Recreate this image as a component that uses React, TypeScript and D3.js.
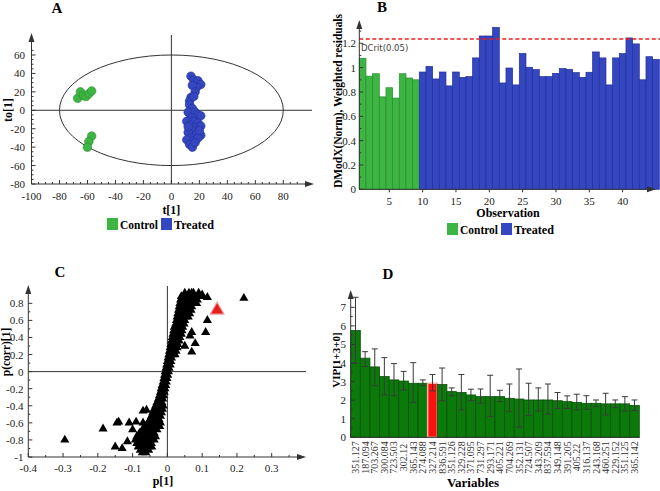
import React from 'react';
import * as d3 from 'd3';

// ---------- Panel A: OPLS-DA scores ----------
const controlScores: [number, number][] = [
  [-67, 13], [-65, 20], [-63, 16], [-61, 15], [-59, 18], [-57, 21],
  [-57, -28], [-59, -34], [-60, -40],
];
const treatedScores: [number, number][] = [
  [14, 37], [16, 33], [19, 32], [21, 28], [18, 25], [15, 27], [17, 20], [14, 14], [13, 10],
  [16, 15], [13, 6], [15, 2], [12, -2], [17, -2], [19, -5], [21, -6], [14, -8], [11, -12],
  [16, -12], [19, -14], [13, -16], [17, -19], [21, -17], [15, -22], [12, -24], [18, -26],
  [21, -27], [14, -30], [11, -32], [16, -33], [19, -30], [13, -37], [15, -40], [17, -35],
  [20, -22], [12, -18],
];
const aXTicks = [-100, -80, -60, -40, -20, 0, 20, 40, 60, 80];
const aYTicks = [-80, -60, -40, -20, 0, 20, 40, 60];
const ellipseT = 80;
const ellipseTo = 60;

// ---------- Panel B: DModX ----------
const dmodxControl = [1.077, 0.93, 0.95, 0.76, 0.835, 0.75, 0.95, 0.915, 0.9];
const dmodxTreated = [
  0.964, 1.01, 0.907, 0.964, 0.85, 0.964, 0.92, 0.926, 1.08, 1.26, 1.26, 1.33, 0.874,
  0.997, 0.858, 1.115, 1.003, 0.984, 0.926, 0.926, 0.953, 0.992, 0.986, 0.959, 0.92,
  0.962, 1.129, 1.08, 0.858, 1.08, 1.115, 1.244, 1.195, 0.9, 1.09, 1.068,
];
const dcrit = 1.235;
const bXTicks = [5, 10, 15, 20, 25, 30, 35, 40];
const bYTicks = [0, 0.2, 0.4, 0.6, 0.8, 1, 1.2];

// ---------- Panel C: S-plot ----------
const loadings: [number, number][] = [
  [0.05, 0.92], [0.062, 0.92], [0.075, 0.92], [0.09, 0.92],
  [0.04, 0.88], [0.052, 0.88], [0.064, 0.88], [0.076, 0.88], [0.088, 0.88], [0.1, 0.88],
  [0.038, 0.84], [0.05, 0.84], [0.062, 0.84], [0.074, 0.84], [0.086, 0.84],
  [0.036, 0.8], [0.048, 0.8], [0.06, 0.8], [0.072, 0.8], [0.084, 0.8],
  [0.034, 0.76], [0.046, 0.76], [0.058, 0.76], [0.07, 0.76],
  [0.032, 0.72], [0.044, 0.72], [0.056, 0.72], [0.068, 0.72],
  [0.03, 0.68], [0.042, 0.68], [0.054, 0.68], [0.064, 0.68],
  [0.028, 0.64], [0.04, 0.64], [0.052, 0.64], [0.06, 0.64],
  [0.026, 0.6], [0.038, 0.6], [0.05, 0.6],
  [0.024, 0.56], [0.036, 0.56], [0.048, 0.56],
  [0.02, 0.52], [0.032, 0.52], [0.044, 0.52],
  [0.018, 0.48], [0.03, 0.48], [0.042, 0.48],
  [0.016, 0.44], [0.028, 0.44], [0.04, 0.44],
  [0.014, 0.4], [0.026, 0.4], [0.036, 0.4],
  [0.012, 0.36], [0.024, 0.36], [0.034, 0.36],
  [0.01, 0.32], [0.02, 0.32], [0.03, 0.32],
  [0.008, 0.28], [0.018, 0.28], [0.028, 0.28],
  [0.006, 0.24], [0.016, 0.24], [0.025, 0.24],
  [0.004, 0.2], [0.014, 0.2], [0.022, 0.2],
  [0.002, 0.16], [0.012, 0.16],
  [0, 0.12], [0.01, 0.12],
  [-0.002, 0.08], [0.008, 0.08],
  [-0.004, 0.04], [0.005, 0.04],
  [-0.006, 0], [0.003, 0],
  [-0.008, -0.04], [0.001, -0.04],
  [-0.01, -0.08], [-0.001, -0.08],
  [-0.012, -0.12], [-0.003, -0.12],
  [-0.015, -0.16], [-0.005, -0.16],
  [-0.018, -0.2], [-0.007, -0.2],
  [-0.02, -0.24], [-0.009, -0.24],
  [-0.023, -0.28], [-0.011, -0.28],
  [-0.026, -0.32], [-0.013, -0.32],
  [-0.03, -0.36], [-0.016, -0.36],
  [-0.034, -0.4], [-0.02, -0.4], [-0.012, -0.4],
  [-0.038, -0.44], [-0.025, -0.44], [-0.014, -0.44],
  [-0.042, -0.48], [-0.03, -0.48], [-0.017, -0.48],
  [-0.046, -0.52], [-0.034, -0.52], [-0.02, -0.52],
  [-0.05, -0.56], [-0.038, -0.56], [-0.024, -0.56],
  [-0.056, -0.6], [-0.044, -0.6], [-0.03, -0.6], [-0.02, -0.6],
  [-0.064, -0.64], [-0.05, -0.64], [-0.036, -0.64], [-0.022, -0.64],
  [-0.072, -0.68], [-0.058, -0.68], [-0.044, -0.68], [-0.03, -0.68],
  [-0.08, -0.72], [-0.066, -0.72], [-0.052, -0.72], [-0.038, -0.72],
  [-0.088, -0.76], [-0.074, -0.76], [-0.06, -0.76], [-0.046, -0.76], [-0.034, -0.76],
  [-0.092, -0.8], [-0.078, -0.8], [-0.064, -0.8], [-0.05, -0.8], [-0.038, -0.8],
  [-0.088, -0.84], [-0.074, -0.84], [-0.06, -0.84], [-0.046, -0.84],
  [-0.084, -0.88], [-0.07, -0.88], [-0.056, -0.88], [-0.045, -0.88],
  [-0.078, -0.92], [-0.066, -0.92], [-0.054, -0.92],
  [-0.072, -0.95], [-0.062, -0.95],
  // scattered variables
  [-0.295, -0.8], [-0.185, -0.67], [-0.145, -0.6], [-0.14, -0.59], [-0.15, -0.88],
  [-0.13, -0.9], [-0.115, -0.82], [-0.11, -0.6], [-0.09, -0.59], [-0.1, -0.68],
  [-0.07, -0.46], [-0.06, -0.45], [-0.07, -0.6],
  [0.22, 0.86], [0.115, 0.6], [0.11, 0.46], [0.08, 0.33], [0.07, 0.46], [0.065, 0.42],
  [0.07, 0.23], [0.05, 0.3], [0.1, 0.9], [0.115, 0.87], [0.07, 0.92],
];
const highlightLoading: [number, number] = [0.143, 0.72];
const cXTicks = [-0.4, -0.3, -0.2, -0.1, 0, 0.1, 0.2, 0.3];
const cYTicks = [-1, -0.8, -0.6, -0.4, -0.2, 0, 0.2, 0.4, 0.6, 0.8];

// ---------- Panel D: VIP ----------
const vipLabels = [
  '351.127', '187.094', '703.267', '300.084', '723.503', '302.12', '365.143', '274.088',
  '327.214', '836.591', '351.126', '329.228', '371.095', '731.297', '293.171', '405.221',
  '704.269', '352.131', '724.507', '343.209', '837.594', '349.148', '391.205', '405.22',
  '316.137', '243.168', '460.251', '229.152', '351.125', '365.142',
];
const vipValues = [
  5.75, 4.26, 3.79, 3.27, 3.09, 3.03, 2.91, 2.91, 2.91, 2.84, 2.46, 2.41, 2.28, 2.19, 2.19,
  2.19, 2.1, 2.06, 2.01, 2.01, 2.01, 1.97, 1.92, 1.88, 1.83, 1.83, 1.8, 1.8, 1.8, 1.71,
];
const vipLow = [
  3.99, 3.81, 2.78, 2.28, 2.24, 2.55, 1.88, 2.78, 2.5, 1.97, 2.24, 1.47, 1.97, 1.83, 1.11,
  1.92, 1.38, 0.54, 1.17, 1.42, 1.24, 1.56, 1.56, 1.47, 1.51, 1.65, 1.2, 1.6, 1.42, 1.44,
];
const vipHigh = [
  7.54, 4.61, 4.76, 4.29, 3.97, 3.55, 4.02, 3.09, 3.38, 3.73, 2.66, 3.38, 2.59, 2.6, 3.34,
  2.53, 2.87, 3.68, 2.91, 2.66, 2.87, 2.41, 2.23, 2.32, 2.24, 2.01, 2.37, 2.01, 2.19, 2.01,
];
const vipHighlight = '327.214';
const dYTicks = [0, 1, 2, 3, 4, 5, 6, 7];

const SERIF = '"Liberation Serif", "DejaVu Serif", serif';
const AX = '#333';
const GREEN = '#3db542';
const GREEN_S = '#2a8e30';
const BLUE = '#3447c0';
const BLUE_S = '#22309a';

function UpArrow({ x, y }: { x: number; y: number }) {
  return <polygon points={`${x},${y} ${x - 3},${y + 9} ${x + 3},${y + 9}`} fill={AX} />;
}
function RightArrow({ x, y }: { x: number; y: number }) {
  return <polygon points={`${x},${y} ${x - 9},${y - 3} ${x - 9},${y + 3}`} fill={AX} />;
}

function fmt(v: number) {
  return String(Math.round(v * 10) / 10);
}

function Legend({ x0, y0 }: { x0: number; y0: number }) {
  return (
    <g>
      <rect x={x0} y={y0} width={11} height={12} fill={GREEN} />
      <text x={x0 + 13} y={y0 + 11} fontFamily={SERIF} fontWeight="bold" fontSize={13}
        textLength={38} lengthAdjust="spacingAndGlyphs">Control</text>
      <rect x={x0 + 54} y={y0} width={11} height={12} fill={BLUE} />
      <text x={x0 + 67} y={y0 + 11} fontFamily={SERIF} fontWeight="bold" fontSize={13}
        textLength={40} lengthAdjust="spacingAndGlyphs">Treated</text>
    </g>
  );
}

function PanelA() {
  const x = d3.scaleLinear().domain([-100, 80]).range([31.5, 283.3]);
  const y = d3.scaleLinear().domain([-80, 60]).range([184, 55]);
  const left = x(-100);
  const bottom = y(-80);
  const xMinor = d3.range(-100, 91, 5);
  const yMinor = d3.range(-80, 66, 5);
  return (
    <g>
      <text x={57} y={13} textAnchor="middle" fontFamily={SERIF} fontWeight="bold" fontSize={15}>A</text>
      <ellipse cx={x(0)} cy={y(0)} rx={x(ellipseT) - x(0)} ry={y(0) - y(ellipseTo)} fill="none" stroke="#333" strokeWidth={1} />
      <line x1={x(0)} x2={x(0)} y1={35} y2={bottom} stroke={AX} />
      <line x1={left} x2={312} y1={y(0)} y2={y(0)} stroke={AX} />
      {controlScores.map((d, i) => (
        <circle key={'c' + i} cx={x(d[0])} cy={y(d[1])} r={4.3} fill={GREEN} stroke={GREEN_S} strokeWidth={0.6} />
      ))}
      {treatedScores.map((d, i) => (
        <circle key={'t' + i} cx={x(d[0])} cy={y(d[1])} r={4.3} fill={BLUE} stroke={BLUE_S} strokeWidth={0.6} />
      ))}
      <line x1={left} x2={left} y1={bottom} y2={36} stroke={AX} />
      <UpArrow x={left} y={33} />
      <line x1={left} x2={311} y1={bottom} y2={bottom} stroke={AX} />
      <RightArrow x={314} y={bottom} />
      {xMinor.map((v) => (
        <line key={'xm' + v} x1={x(v)} x2={x(v)} y1={bottom} y2={bottom - (v % 20 === 0 ? 4 : 2)} stroke={AX} />
      ))}
      {yMinor.map((v) => (
        <line key={'ym' + v} x1={left} x2={left + (v % 20 === 0 ? 4 : 2)} y1={y(v)} y2={y(v)} stroke={AX} />
      ))}
      {aXTicks.map((v) => (
        <text key={'xt' + v} x={x(v)} y={200} textAnchor="middle" fontFamily={SERIF} fontSize={11} fill="#222">{v}</text>
      ))}
      {aYTicks.map((v) => (
        <text key={'yt' + v} x={25} y={y(v) + 4} textAnchor="end" fontFamily={SERIF} fontSize={11} fill="#222">{v}</text>
      ))}
      <text transform={`translate(12,110) rotate(-90)`} textAnchor="middle" fontFamily={SERIF} fontWeight="bold" fontSize={12}>to[1]</text>
      <text x={x(0)} y={214} textAnchor="middle" fontFamily={SERIF} fontWeight="bold" fontSize={12}>t[1]</text>
      <Legend x0={107} y0={218} />
    </g>
  );
}

function PanelB() {
  const all = [...dmodxControl, ...dmodxTreated];
  const obs = all.map((_, i) => i + 1);
  const x = d3.scaleBand<number>().domain(obs).range([359.3, 659.3]).padding(0);
  const y = d3.scaleLinear().domain([0, 1.2]).range([189.3, 43.3]);
  const left = 359.3;
  const bottom = y(0);
  const yMinor = d3.range(0, 1.31, 0.1);
  return (
    <g>
      <text x={382} y={12} textAnchor="middle" fontFamily={SERIF} fontWeight="bold" fontSize={15}>B</text>
      {all.map((v, i) => {
        const ctrl = i < dmodxControl.length;
        return (
          <rect key={i} x={x(i + 1)!} y={y(v)} width={x.bandwidth()} height={bottom - y(v)}
            fill={ctrl ? GREEN : BLUE} stroke={ctrl ? GREEN_S : BLUE_S} strokeWidth={0.7} />
        );
      })}
      <line x1={left} x2={660} y1={y(dcrit)} y2={y(dcrit)} stroke="#e8201c" strokeWidth={1.5} strokeDasharray="4,2.5" />
      <text x={361} y={51} fontFamily='"DejaVu Sans", sans-serif' fontSize={8.5} fill="#444">DCrit(0.05)</text>
      <line x1={left} x2={left} y1={bottom} y2={24} stroke={AX} />
      <UpArrow x={left} y={20} />
      <line x1={left} x2={653} y1={bottom} y2={bottom} stroke={AX} />
      <RightArrow x={656} y={bottom} />
      {yMinor.map((v, i) => (
        <line key={'ym' + i} x1={left} x2={left + (i % 2 === 0 ? 4 : 2)} y1={y(v)} y2={y(v)} stroke={AX} />
      ))}
      {bYTicks.map((v) => (
        <text key={'yt' + v} x={356} y={y(v) + 4} textAnchor="end" fontFamily={SERIF} fontSize={11} fill="#222">{fmt(v)}</text>
      ))}
      {bXTicks.map((v) => (
        <g key={'xt' + v}>
          <line x1={x(v)! + x.bandwidth() / 2} x2={x(v)! + x.bandwidth() / 2} y1={bottom} y2={bottom + 3} stroke={AX} />
          <text x={x(v)! + x.bandwidth() / 2} y={205} textAnchor="middle" fontFamily={SERIF} fontSize={11} fill="#222">{v}</text>
        </g>
      ))}
      <text transform={`translate(342,101) rotate(-90)`} textAnchor="middle" fontFamily={SERIF} fontWeight="bold" fontSize={12}
        textLength={174} lengthAdjust="spacingAndGlyphs">DModX(Norm), Weighted residuals</text>
      <text x={508} y={217} textAnchor="middle" fontFamily={SERIF} fontWeight="bold" fontSize={12}>Observation</text>
      <Legend x0={447} y0={223} />
    </g>
  );
}

function PanelC() {
  const x = d3.scaleLinear().domain([-0.4, 0.3]).range([28.3, 271.7]);
  const y = d3.scaleLinear().domain([-1, 0.8]).range([457, 303.3]);
  const left = x(-0.4);
  const bottom = y(-1);
  const tri = d3.symbol().type(d3.symbolTriangle).size(36)()!;
  const triBig = d3.symbol().type(d3.symbolTriangle).size(80)()!;
  const xMinor = d3.range(-0.4, 0.36, 0.05);
  const yMinor = d3.range(-1, 0.86, 0.1);
  return (
    <g>
      <text x={60} y={277} textAnchor="middle" fontFamily={SERIF} fontWeight="bold" fontSize={15}>C</text>
      <line x1={x(0)} x2={x(0)} y1={286} y2={bottom} stroke={AX} />
      <line x1={left} x2={306} y1={y(0)} y2={y(0)} stroke={AX} />
      {loadings.map((d, i) => (
        <path key={i} d={tri} transform={`translate(${x(d[0])},${y(d[1])})`} fill="#000" />
      ))}
      <path d={triBig} transform={`translate(${x(highlightLoading[0])},${y(highlightLoading[1])})`} fill="#e3201b" stroke="#f29a9a" strokeWidth={1.2} />
      <line x1={left} x2={left} y1={bottom} y2={289} stroke={AX} />
      <UpArrow x={left} y={285} />
      <line x1={left} x2={303} y1={bottom} y2={bottom} stroke={AX} />
      <RightArrow x={306} y={bottom} />
      {xMinor.map((v, i) => (
        <line key={'xm' + i} x1={x(v)} x2={x(v)} y1={bottom} y2={bottom - (i % 2 === 0 ? 4 : 2)} stroke={AX} />
      ))}
      {yMinor.map((v, i) => (
        <line key={'ym' + i} x1={left} x2={left + (i % 2 === 0 ? 4 : 2)} y1={y(v)} y2={y(v)} stroke={AX} />
      ))}
      {cXTicks.map((v) => (
        <text key={'xt' + v} x={x(v)} y={472} textAnchor="middle" fontFamily={SERIF} fontSize={11} fill="#222">{fmt(v)}</text>
      ))}
      {cYTicks.map((v) => (
        <text key={'yt' + v} x={23.5} y={y(v) + 4} textAnchor="end" fontFamily={SERIF} fontSize={11} fill="#222">{fmt(v)}</text>
      ))}
      <text transform={`translate(10,352) rotate(-90)`} textAnchor="middle" fontFamily={SERIF} fontWeight="bold" fontSize={11.5}>p(corr)[1]</text>
      <text x={163} y={485} textAnchor="middle" fontFamily={SERIF} fontWeight="bold" fontSize={12}>p[1]</text>
    </g>
  );
}

function PanelD() {
  const x = d3.scaleBand<string>().domain(vipLabels).range([350.7, 639.3]).padding(0);
  const y = d3.scaleLinear().domain([0, 7]).range([437.3, 307.3]);
  const left = 350.7;
  const bottom = y(0);
  const bw = x.bandwidth();
  const yMinor = d3.range(0, 7.6, 0.5);
  return (
    <g>
      <text x={388} y={279} textAnchor="middle" fontFamily={SERIF} fontWeight="bold" fontSize={15}>D</text>
      {vipLabels.map((lab, i) => {
        const hl = lab === vipHighlight;
        return (
          <rect key={'b' + i} x={x(lab)!} y={y(vipValues[i])} width={bw} height={bottom - y(vipValues[i])}
            fill={hl ? '#ff1010' : '#0b7a0b'} stroke={hl ? '#f7b0a8' : '#075207'} strokeWidth={hl ? 1.5 : 0.8} />
        );
      })}
      {vipLabels.map((lab, i) => {
        const cx = x(lab)! + bw / 2;
        return (
          <g key={'e' + i} stroke="#3a3a3a" strokeWidth={1}>
            <line x1={cx} x2={cx} y1={y(vipHigh[i])} y2={y(vipLow[i])} />
            <line x1={cx - 3} x2={cx + 3} y1={y(vipHigh[i])} y2={y(vipHigh[i])} />
            <line x1={cx - 3} x2={cx + 3} y1={y(vipLow[i])} y2={y(vipLow[i])} />
          </g>
        );
      })}
      <line x1={left} x2={left} y1={bottom} y2={294} stroke={AX} />
      <UpArrow x={left} y={290} />
      <line x1={left} x2={639.3} y1={bottom} y2={bottom} stroke={AX} />
      {yMinor.map((v, i) => (
        <line key={'ym' + i} x1={left} x2={left + (i % 2 === 0 ? 4 : 2)} y1={y(v)} y2={y(v)} stroke={AX} />
      ))}
      {dYTicks.map((v) => (
        <text key={'yt' + v} x={346} y={y(v) + 4} textAnchor="end" fontFamily={SERIF} fontSize={11} fill="#222">{v}</text>
      ))}
      {vipLabels.map((lab) => (
        <text key={'xl' + lab} transform={`translate(${x(lab)! + bw / 2},457.5) rotate(-90)`} textAnchor="middle"
          dominantBaseline="central" fontFamily={SERIF} fontSize={10} fill="#333">{lab}</text>
      ))}
      <text transform={`translate(340,360) rotate(-90)`} textAnchor="middle" fontFamily={SERIF} fontWeight="bold" fontSize={11}>VIP[1+3+0]</text>
      <text x={473} y={487} textAnchor="middle" fontFamily={SERIF} fontWeight="bold" fontSize={13}>Variables</text>
    </g>
  );
}

export default function App() {
  return (
    <svg width={660} height={491} viewBox="0 0 660 491"
      style={{ position: 'absolute', left: 0, top: 0, background: '#fff' }}>
      <rect width={660} height={491} fill="#fff" />
      <PanelA />
      <PanelB />
      <PanelC />
      <PanelD />
    </svg>
  );
}
